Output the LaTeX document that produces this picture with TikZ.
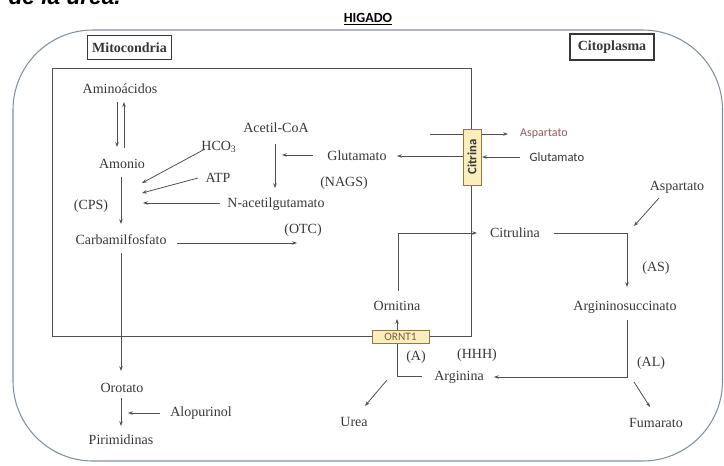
\documentclass[tikz,border=0pt]{standalone}
\usepackage{fontspec}
\setmainfont{Liberation Serif}
\newfontfamily\calib{Carlito}
\newfontfamily\arialf{Liberation Sans}
\usetikzlibrary{arrows.meta}
\definecolor{ink}{RGB}{55,55,55}
\definecolor{lineg}{RGB}{80,80,80}
\definecolor{outerc}{RGB}{130,145,160}
\definecolor{boxy}{RGB}{250,238,188}
\definecolor{boxb}{RGB}{150,120,60}
\definecolor{aspc}{RGB}{150,85,95}
\begin{document}
\begin{tikzpicture}[x=0.75pt,y=-0.75pt,
  txt/.style={font=\fontsize{10.5}{12}\selectfont, text=ink, inner sep=0.5pt},
  ln/.style={draw=lineg, line width=0.6pt},
  ar/.style={ln, -{Stealth[length=3.6pt,width=2.6pt]}},
  labbox/.style={draw=ink, line width=0.8pt, inner sep=0pt, font=\bfseries\fontsize{10.5}{12}\selectfont, text=ink},
  tbox/.style={draw=boxb, fill=boxy, line width=0.6pt, inner sep=0pt},
]
\useasboundingbox (0,0) rectangle (724,465);
% cut title at top
\begin{scope}
\clip (0,0) rectangle (724,465);
\node[anchor=base east, inner sep=0pt, font=\arialf\bfseries\itshape\fontsize{17}{20}\selectfont, text=black] (ttl) at (121,4) {de la urea.};
\end{scope}
% outer liver outline
\draw[outerc, line width=0.8pt, rounded corners=60] (13,30) rectangle (722.5,461);
\node[font=\calib\bfseries\fontsize{10.5}{12}\selectfont, text=black, inner sep=0pt] (hig) at (368,19) {\underline{HIGADO}};
% label boxes
\node[labbox, minimum width=63pt, minimum height=18.5pt] (mito) at (129.5,47.5) {Mitocondria};
\node[labbox, minimum width=63pt, minimum height=19.5pt] (cito) at (612,47) {Citoplasma};
% mitochondria rectangle
\draw[ln, line width=0.75pt] (52,68) rectangle (471,336);
% nodes
\node[txt] (amino) at (120,89) {Aminoácidos};
\node[txt] (amon) at (122,164) {Amonio};
\node[txt] (hco) at (219,147) {HCO\textsubscript{3}};
\node[txt] (atp) at (218,178) {ATP};
\node[txt] (nacg) at (276,204) {N-acetilgutamato};
\node[txt] (cps) at (91,206) {(CPS)};
\node[txt] (carb) at (121,240) {Carbamilfosfato};
\node[txt] (otc) at (303,230) {(OTC)};
\node[txt] (acet) at (276,128) {Acetil-CoA};
\node[txt] (glum) at (357,156) {Glutamato};
\node[txt] (nags) at (344,183) {(NAGS)};
\node[txt] (orot) at (122,388) {Orotato};
\node[txt] (alop) at (201,413) {Alopurinol};
\node[txt] (pirim) at (121,440) {Pirimidinas};
\node[txt] (urea) at (354,422) {Urea};
\node[txt] (orn) at (397,306) {Ornitina};
\node[txt] (cit) at (515,233) {Citrulina};
\node[txt] (aspc) at (677,187) {Aspartato};
\node[txt] (as) at (656,268) {(AS)};
\node[txt] (args) at (625,307) {Argininosuccinato};
\node[txt] (al) at (651,363) {(AL)};
\node[txt] (arg) at (459,377) {Arginina};
\node[txt] (fum) at (656,423) {Fumarato};
\node[txt] (hhh) at (477,355) {(HHH)};
\node[txt] (aa) at (416,357) {(A)};
\node[font=\calib\fontsize{9}{10}\selectfont, text=aspc, inner sep=0pt] (asps) at (544,134) {Aspartato};
\node[font=\calib\fontsize{9.5}{10}\selectfont, text=ink, inner sep=0pt] (glus) at (557,157) {Glutamato};
% coordinates
\coordinate (p1) at (117,102); \coordinate (p2) at (117,147);
\coordinate (p3) at (124,148); \coordinate (p4) at (124,102);
\coordinate (p5) at (121,177); \coordinate (p6) at (121,224);
\coordinate (h1) at (205,149); \coordinate (h2) at (142,183);
\coordinate (t1) at (198,178); \coordinate (t2) at (142,193);
\coordinate (n1) at (220,203); \coordinate (n2) at (143,203);
\coordinate (c1) at (275,144); \coordinate (c2) at (275,188);
\coordinate (g1) at (313,155); \coordinate (g2) at (282,155);
\coordinate (o1) at (177,243); \coordinate (o2) at (297,243);
\coordinate (d1) at (121,253); \coordinate (d2) at (121,371);
\coordinate (d3) at (121,398); \coordinate (d4) at (121,426);
\coordinate (l1) at (160,413); \coordinate (l2) at (128,413);
\coordinate (s1) at (430,134); \coordinate (s2) at (508,134);
\coordinate (u1) at (520,157); \coordinate (u2) at (482,157);
\coordinate (v1) at (463,156); \coordinate (v2) at (397,156);
\coordinate (r1) at (398,291); \coordinate (r2) at (398,233); \coordinate (r3) at (477,233);
\coordinate (q1) at (554,233); \coordinate (q2) at (627,233); \coordinate (q3) at (627,287);
\coordinate (k1) at (659,198); \coordinate (k2) at (634,226);
\coordinate (m1) at (627,320); \coordinate (m2) at (627,377); \coordinate (m3) at (494,377);
\coordinate (f1) at (634,382); \coordinate (f2) at (650,407);
\coordinate (z1) at (422,376); \coordinate (z2) at (397,376); \coordinate (z3) at (397,319);
\coordinate (e1) at (387,380); \coordinate (e2) at (365,406);
% connectors
\draw[ar] (p1) -- (p2);
\draw[ar] (p3) -- (p4);
\draw[ar] (p5) -- (p6);
\draw[ar] (h1) -- (h2);
\draw[ar] (t1) -- (t2);
\draw[ar] (n1) -- (n2);
\draw[ar] (c1) -- (c2);
\draw[ar] (g1) -- (g2);
\draw[ar] (o1) -- (o2);
\draw[ar] (d1) -- (d2);
\draw[ar] (d3) -- (d4);
\draw[ar] (l1) -- (l2);
\draw[ar] (s1) -- (s2);
\draw[ar] (u1) -- (u2);
\draw[ar] (v1) -- (v2);
\draw[ar] (r1) -- (r2) -- (r3);
\draw[ar] (q1) -- (q2) -- (q3);
\draw[ar] (k1) -- (k2);
\draw[ar] (m1) -- (m2) -- (m3);
\draw[ar] (f1) -- (f2);
\draw[ar] (z1) -- (z2) -- (z3);
\draw[ar] (e1) -- (e2);
% transporter boxes
\node[tbox, minimum width=13.5pt, minimum height=42pt] (citr) at (472,157) {};
\node[rotate=90, font=\calib\bfseries\fontsize{9.5}{10}\selectfont, text=ink, inner sep=0pt] (citrt) at (citr.center) {Citrina};
\node[tbox, minimum width=42.75pt, minimum height=9.75pt, font=\calib\fontsize{8.5}{9}\selectfont, text={rgb,255:red,120;green,95;blue,50}] (ornt) at (400.5,336.5) {ORNT1};
\end{tikzpicture}
\end{document}
